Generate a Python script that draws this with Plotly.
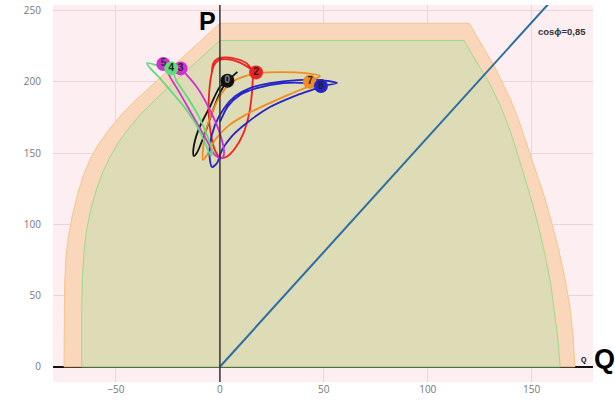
import plotly.graph_objects as go

# ---------------- data ----------------
# capability region boundaries (Q, P)
orange_q = [-75, -75, -74.7, -74, -72.8, -71, -68.5, -65.5, -62, -58, -53, -47, -40, -30, -20, -10, 0,
            120, 126, 132, 136, 140, 144, 148, 152, 156, 159.5, 163, 166, 168.4, 170, 170.8, -75]
orange_p = [0, 30, 58, 78, 92, 106, 121, 135, 147, 157, 167, 177.5, 187.8, 201.1, 214.4, 227.7, 241,
            241, 226, 211, 199, 187, 172, 155, 138, 120, 102, 82, 62, 42, 20, 0, 0]
green_q = [-66.5, -66.5, -66.1, -65.3, -64, -62, -59.5, -56.5, -53, -49, -44, -38, -30, -20, -10, 0,
           117.4, 124, 130, 135, 139.6, 143.5, 147, 150.5, 153.5, 156.5, 159.2, 161.3, 162.8, 163.7, -66.5]
green_p = [0, 40, 64, 82, 97, 111, 124, 136, 147, 157, 167, 177.5, 189, 202.4, 215.7, 229,
           229, 213, 198, 183, 166, 148, 131, 114, 97, 78, 58, 36, 17, 0, 0]

# cos(phi)=0.85 line
cosphi_q = [0, 180]
cosphi_p = [0, 290]

# trajectories
black_q = [8.4, 3.6, 0.0, -4.8, -10.4, -12.8, -12.5, -11.2, -7.2, -3.9, -0.8, 1.6, 3.6]
black_p = [207.0, 200.7, 196.5, 182.5, 166.1, 152.1, 147.9, 149.8, 163.8, 177.8, 189.5, 196.5, 200.7]

red_q = [17.4, 14.5, 9.7, 4.1, -0.3, -2.8, -4.3, -5.2, -5.4, -4.4, -2.4, 0.0, 3.3, 7.3, 11.3, 14.1, 15.4, 15.8, 16.1,
         12.9, 8.1, 3.3, -0.8, -3.2, -3.9]
red_p = [206.6, 209.4, 213.4, 215.7, 215.3, 211.7, 203.5, 191.9, 177.8, 163.8, 152.1, 147.0, 147.4, 153.3, 163.8, 177.8, 191.9, 201.2, 205.9,
         212.9, 216.0, 217.1, 216.4, 212.9, 205.9]

magenta_q = [-19.2, -11.2, -4.8, 0.0, 2.0, 0.9, -2.4, -6.4, -12.8, -19.2, -24.0, -26.4, -27.2, -23.2, -19.2]
magenta_p = [209.4, 196.5, 180.2, 163.8, 149.8, 146.3, 148.6, 159.1, 175.5, 191.9, 203.5, 210.6, 212.5, 211.7, 209.4]

green_tr_q = [-23.4, -28.8, -35.1, -33.6, -29.8, -24.0, -16.8, -10.5, -6.7, -4.3, -3.8, -6.2, -10.5, -16.3, -21.1, -23.4]
green_tr_p = [209.4, 211.0, 213.2, 209.6, 204.0, 194.2, 181.6, 167.6, 155.6, 147.9, 152.1, 162.6, 176.6, 190.6, 201.2, 209.4]

orange_tr_q = [43.3, 48.2, 40.9, 28.9, 19.3, 12.1, 5.8, 1.0, -3.3, -6.7, -8.1, -8.1, -6.2, -2.4, 3.9, 12.1, 21.7, 33.7, 43.3, 49.6, 43.3]
orange_tr_p = [200.0, 204.0, 206.1, 206.8, 206.1, 204.0, 199.8, 192.1, 180.2, 166.1, 153.5, 145.1, 148.6, 159.1, 168.9, 176.6, 183.6, 191.4, 197.1, 201.3, 200.0]

blue_q = [48.6, 56.3, 48.2, 37.1, 24.1, 14.5, 7.3, 2.0, -2.4, -4.8, -4.8, -3.8, -1.4, 1.0, 5.8, 13.5, 24.1, 37.1, 46.7, 48.6,
          41.4, 30.4, 17.8, 9.7, 3.9, 0.0]
blue_p = [197.0, 199.1, 201.2, 201.2, 199.1, 195.6, 189.9, 181.5, 169.6, 155.6, 145.1, 140.2, 143.0, 152.1, 161.9, 171.8, 182.3, 190.7, 195.6, 197.0,
          199.1, 199.1, 195.6, 190.7, 182.9, 171.8]

# numbered markers
marker_q = [-27.2, 3.6, 17.4, -18.9, -23.4, 43.3, 48.6]
marker_p = [212.5, 200.7, 206.6, 209.4, 209.4, 200.0, 197.0]
marker_labels = ["5", "0", "2", "3", "4", "7", "8"]
marker_colors = ["#d12fd3", "#111111", "#ee2222", "#d12fd3", "#5fdc7e", "#f08c22", "#2424c8"]
marker_text_colors = ["#333", "#888", "#222", "#222", "#222", "#222", "#222"]

x_ticks = [-50, 0, 50, 100, 150]
y_ticks = [0, 50, 100, 150, 200, 250]

# ---------------- figure ----------------
fig = go.Figure()

fig.add_trace(go.Scatter(x=orange_q, y=orange_p, mode="lines", fill="toself",
                         fillcolor="rgb(250,214,186)", line=dict(color="rgb(246,196,140)", width=1),
                         hoverinfo="skip", showlegend=False))
fig.add_trace(go.Scatter(x=green_q, y=green_p, mode="lines", fill="toself",
                         fillcolor="rgb(222,219,183)", line=dict(color="rgb(158,218,140)", width=1),
                         hoverinfo="skip", showlegend=False))
fig.add_trace(go.Scatter(x=cosphi_q, y=cosphi_p, mode="lines",
                         line=dict(color="rgb(40,110,160)", width=2), showlegend=False))

series = [
    (black_q, black_p, "#111111"),
    (red_q, red_p, "#ee2222"),
    (orange_tr_q, orange_tr_p, "#f08c22"),
    (blue_q, blue_p, "#2424c8"),
    (magenta_q, magenta_p, "#d12fd3"),
    (green_tr_q, green_tr_p, "#5fdc7e"),
]
for q, p, c in series:
    fig.add_trace(go.Scatter(x=q, y=p, mode="lines", line=dict(color=c, width=1.8, shape="spline", smoothing=0.8),
                             showlegend=False))

fig.add_trace(go.Scatter(x=marker_q, y=marker_p, mode="markers+text",
                         marker=dict(size=14, color=marker_colors),
                         text=["<b>%s</b>" % t for t in marker_labels], textposition="middle center",
                         textfont=dict(size=10, color=marker_text_colors, family="Liberation Sans, Arial"),
                         showlegend=False))

fig.add_shape(type="line", xref="x", yref="paper", x0=0, x1=0, y0=0, y1=1,
              line=dict(color="#333333", width=1.5), layer="above")

fig.add_annotation(x=0, y=1, xref="x", yref="paper", xanchor="right", yanchor="top", xshift=-2, yshift=0,
                   text="<b>P</b>", showarrow=False, font=dict(size=25, color="#000", family="Liberation Sans, Arial"))
fig.add_annotation(x=1.0, y=0, xref="paper", yref="y", xanchor="left", yanchor="middle", xshift=-1, yshift=8,
                   text="<b>Q</b>", showarrow=False, font=dict(size=27, color="#000", family="Liberation Sans, Arial"))
fig.add_annotation(x=175.1, y=0, xref="x", yref="y", xanchor="center", yanchor="bottom", yshift=1,
                   text="<b>Q</b>", showarrow=False, font=dict(size=7, color="#000", family="Liberation Sans, Arial"))
fig.add_annotation(x=164.6, y=235.6, xref="x", yref="y", xanchor="center", yanchor="middle",
                   text="<b>cosϕ=0,85</b>", showarrow=False, font=dict(size=9.5, color="#333", family="Liberation Sans, Arial"))

fig.update_layout(
    width=615, height=401,
    margin=dict(l=53, r=22, t=5, b=19, autoexpand=False),
    paper_bgcolor="white", plot_bgcolor="rgb(253,238,242)",
    font=dict(family="Open Sans, Liberation Sans, Arial", size=10, color="#777"),
    xaxis=dict(range=[-80.3, 179.5], tickvals=x_ticks, showgrid=True, gridcolor="rgb(232,214,220)", gridwidth=1,
               zeroline=False, ticks="", showline=False, automargin=False,
               tickfont=dict(size=10, color="#777")),
    yaxis=dict(range=[-10.7, 253.9], tickvals=y_ticks, showgrid=True, gridcolor="rgb(232,214,220)", gridwidth=1,
               zeroline=True, zerolinecolor="#111", zerolinewidth=2, ticks="outside", ticklen=9,
               tickcolor="rgba(0,0,0,0)", showline=False, automargin=False, tickfont=dict(size=10, color="#777")),
    showlegend=False,
)

fig.write_html("out.html", config={"displayModeBar": False},
               post_script="document.body.style.margin='0';document.body.style.overflow='hidden';")
